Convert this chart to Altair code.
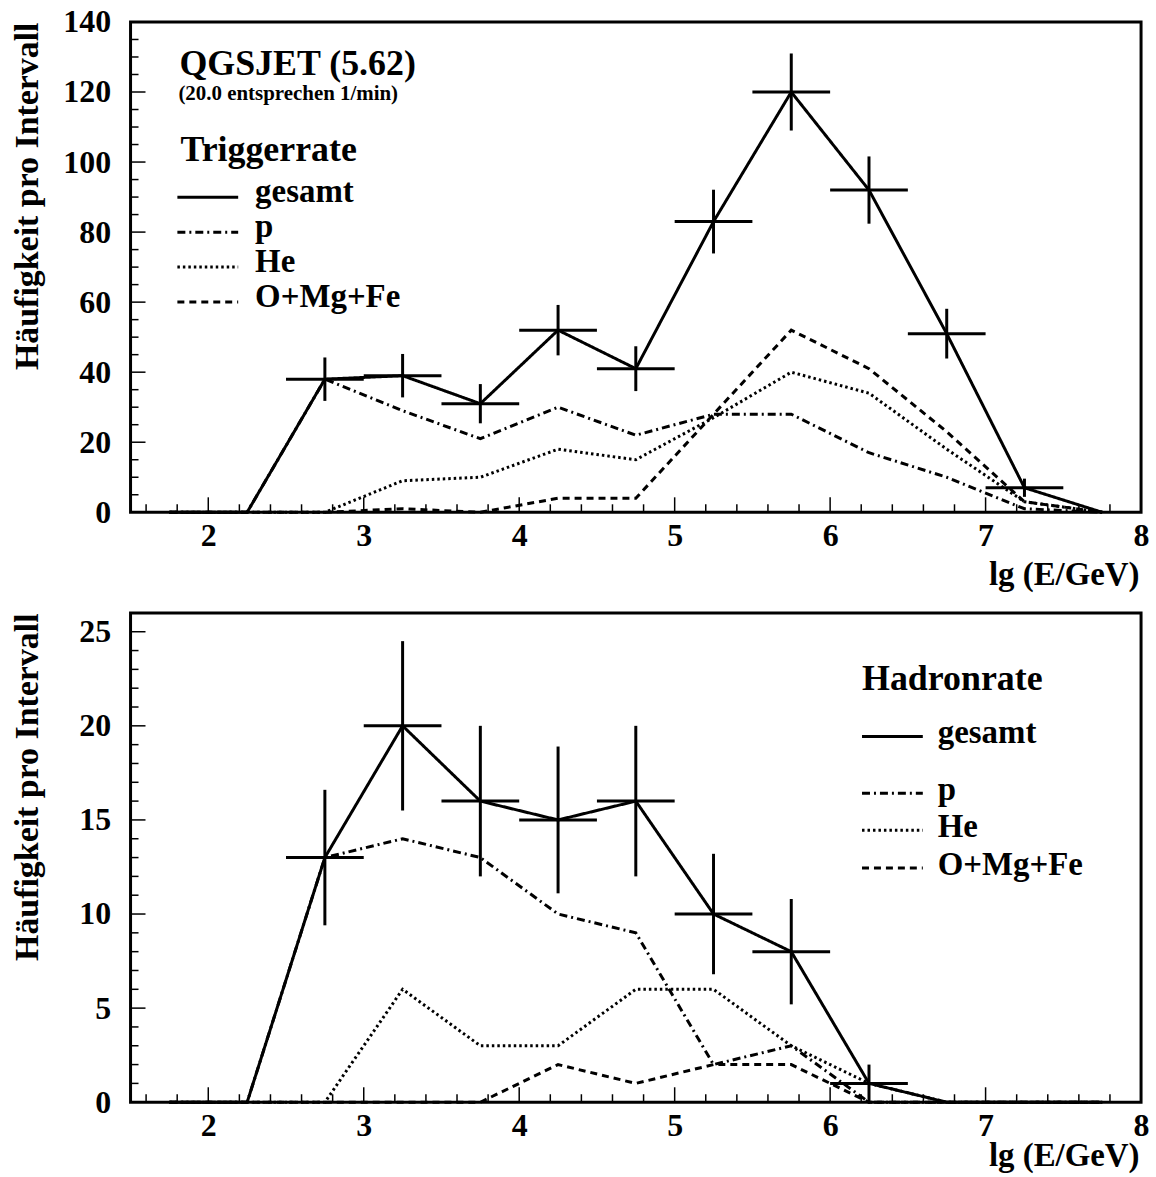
import altair as alt
import pandas as pd

# ---------------- data ----------------
X_CENTERS = [1.75, 2.25, 2.75, 3.25, 3.75, 4.25, 4.75, 5.25, 5.75, 6.25, 6.75, 7.25, 7.75]

TRIG_GESAMT = [0, 0, 38, 39, 31, 52, 41, 83, 120, 92, 51, 7, 0]
TRIG_P = [0, 0, 38, 29, 21, 30, 22, 28, 28, 17, 10, 1, 0]
TRIG_HE = [0, 0, 0, 9, 10, 18, 15, 27, 40, 34, 18, 3, 0]
TRIG_O = [0, 0, 0, 1, 0, 4, 4, 28, 52, 41, 23, 3, 0]
TRIG_ERR = [0, 0, 6.2, 6.2, 5.6, 7.2, 6.4, 9.1, 11.0, 9.6, 7.1, 2.6, 0]

HAD_GESAMT = [0, 0, 13, 20, 16, 15, 16, 10, 8, 1, 0, 0, 0]
HAD_P = [0, 0, 13, 14, 13, 10, 9, 2, 3, 0, 0, 0, 0]
HAD_HE = [0, 0, 0, 6, 3, 3, 6, 6, 3, 1, 0, 0, 0]
HAD_O = [0, 0, 0, 0, 0, 2, 1, 2, 2, 0, 0, 0, 0]
HAD_ERR = [0, 0, 3.6, 4.5, 4.0, 3.9, 4.0, 3.2, 2.8, 1.0, 0, 0, 0]

BIN_HALF = 0.25
SERIES = ["gesamt", "p", "He", "O+Mg+Fe"]
X_TICK_LABELS = [2, 3, 4, 5, 6, 7, 8]
TRIG_Y_LABELS = [0, 20, 40, 60, 80, 100, 120, 140]
HAD_Y_LABELS = [0, 5, 10, 15, 20, 25]

# ---------------- style ----------------
FONT = "Liberation Serif"
DASHES = [[1, 0], [8, 4, 2, 4], [2.5, 3], [7, 5]]
W = 1014
H_TOP = 492
H_BOT = 491
X_DOMAIN = [1.5, 8]


def long_df(gesamt, p, he, o):
    rows = []
    for name, vals in zip(SERIES, [gesamt, p, he, o]):
        for x, v in zip(X_CENTERS, vals):
            rows.append({"x": x, "value": v, "series": name})
    return pd.DataFrame(rows)


def text_layer(txt, x, y, size):
    return alt.Chart(pd.DataFrame({"t": [txt]})).mark_text(
        font=FONT, fontWeight="bold", fontSize=size, align="left",
        baseline="alphabetic", color="black"
    ).encode(text="t:N", x=alt.value(x), y=alt.value(y))


def sample_layer(dash, x1, x2, y):
    kw = dict(color="black", strokeWidth=3)
    if dash is not None:
        kw["strokeDash"] = dash
    return alt.Chart(pd.DataFrame({"a": [0]})).mark_rule(**kw).encode(
        x=alt.value(x1), x2=alt.value(x2), y=alt.value(y)
    )


def panel(gesamt, p, he, o, err, ymax, height, ylabels, ymajor_step, yminor_step,
          texts, legend_x, legend_ys, label_x, label_dy, xtitle_y):
    xs = alt.Scale(domain=X_DOMAIN, nice=False, zero=False)
    ys = alt.Scale(domain=[0, ymax], nice=False, zero=True)

    x_axis = alt.Axis(
        values=X_TICK_LABELS, format="d", ticks=False, tickSize=0, domain=False,
        grid=False, labelPadding=8, labelFontSize=32, labelFont=FONT,
        labelFontWeight="bold", labelColor="black", labelFlush=False,
        title="lg (E/GeV)", titleFont=FONT, titleFontSize=33, titleFontWeight="bold",
        titleColor="black", titleAlign="right", titleBaseline="alphabetic",
        titleX=W - 2, titleY=xtitle_y, titleAngle=0,
    )
    y_axis = alt.Axis(
        values=ylabels, format="d", ticks=False, tickSize=0, domain=False,
        grid=False, labelPadding=20, labelFontSize=32, labelFont=FONT,
        labelFontWeight="bold", labelColor="black", labelFlush=False,
        title="Häufigkeit pro Intervall", titleFont=FONT, titleFontSize=34,
        titleFontWeight="bold", titleColor="black", titleAngle=-90,
        titleAlign="right", titleBaseline="alphabetic", titleX=-93, titleY=0,
    )

    def X(field):
        return alt.X(field, scale=xs, axis=x_axis)

    def Y(field):
        return alt.Y(field, scale=ys, axis=y_axis)

    df = long_df(gesamt, p, he, o)
    lines = alt.Chart(df).mark_line(color="black", strokeWidth=3).encode(
        x=X("x:Q"),
        y=Y("value:Q"),
        strokeDash=alt.StrokeDash("series:N", scale=alt.Scale(domain=SERIES, range=DASHES),
                                  legend=None),
        detail="series:N",
    )

    edf = pd.DataFrame({"x": X_CENTERS, "y": gesamt, "err": err})
    base = alt.Chart(edf).transform_filter("datum.y > 0").transform_calculate(
        lo="datum.y - datum.err", hi="datum.y + datum.err",
        xl="datum.x - %f" % BIN_HALF, xr="datum.x + %f" % BIN_HALF,
    )
    vbar = base.mark_rule(color="black", strokeWidth=3).encode(
        x=X("x:Q"), y=Y("lo:Q"), y2="hi:Q",
    )
    hbar = base.mark_rule(color="black", strokeWidth=3).encode(
        x=X("xl:Q"), x2="xr:Q", y=Y("y:Q"),
    )

    # inward ticks
    x_major = [float(v) for v in X_TICK_LABELS]
    x_minor = [round(1.6 + 0.2 * i, 2) for i in range(33)]
    x_minor = [v for v in x_minor if v <= 8.0 and abs(v - round(v)) > 1e-6]
    y_major = [float(v) for v in ylabels]
    y_minor = [v for v in [i * yminor_step for i in range(int(ymax / yminor_step) + 1)]
               if v % ymajor_step != 0 and v < ymax]

    def xticks(vals, length):
        return alt.Chart(pd.DataFrame({"v": vals})).mark_rule(color="black", strokeWidth=1.5).encode(
            x=X("v:Q"), y=alt.value(height), y2=alt.value(height - length))

    def yticks(vals, length):
        return alt.Chart(pd.DataFrame({"v": vals})).mark_rule(color="black", strokeWidth=1.5).encode(
            y=Y("v:Q"), x=alt.value(0), x2=alt.value(length))

    layers = [lines, vbar, hbar,
              xticks(x_major, 15), xticks(x_minor, 8),
              yticks(y_major, 15), yticks(y_minor, 8)]

    for txt, x, y, size in texts:
        layers.append(text_layer(txt, x, y, size))
    for name, dash, ly in zip(SERIES, [None] + DASHES[1:], legend_ys):
        layers.append(sample_layer(dash, legend_x, legend_x + 61, ly))
        layers.append(text_layer(name, label_x, ly + label_dy, 33))

    return alt.layer(*layers).properties(width=W, height=height)


top = panel(
    TRIG_GESAMT, TRIG_P, TRIG_HE, TRIG_O, TRIG_ERR, 140, H_TOP, TRIG_Y_LABELS, 20, 5,
    texts=[("QGSJET (5.62)", 49, 53, 36),
           ("(20.0 entsprechen 1/min)", 48, 78, 21),
           ("Triggerrate", 50, 140, 36)],
    legend_x=47, legend_ys=[176, 211, 246, 281], label_x=125, label_dy=5, xtitle_y=72,
)

bottom = panel(
    HAD_GESAMT, HAD_P, HAD_HE, HAD_O, HAD_ERR, 26, H_BOT, HAD_Y_LABELS, 5, 1,
    texts=[("Hadronrate", 734, 77, 36)],
    legend_x=734, legend_ys=[124, 181, 218, 256], label_x=810, label_dy=7, xtitle_y=63,
)

chart = alt.vconcat(top, bottom, spacing=18).properties(
    padding={"left": 9, "top": 2, "right": 5, "bottom": 0},
    background="white",
).configure_view(stroke="black", strokeWidth=3)

chart.save("out.html", embed_options={"renderer": "svg", "actions": False})
